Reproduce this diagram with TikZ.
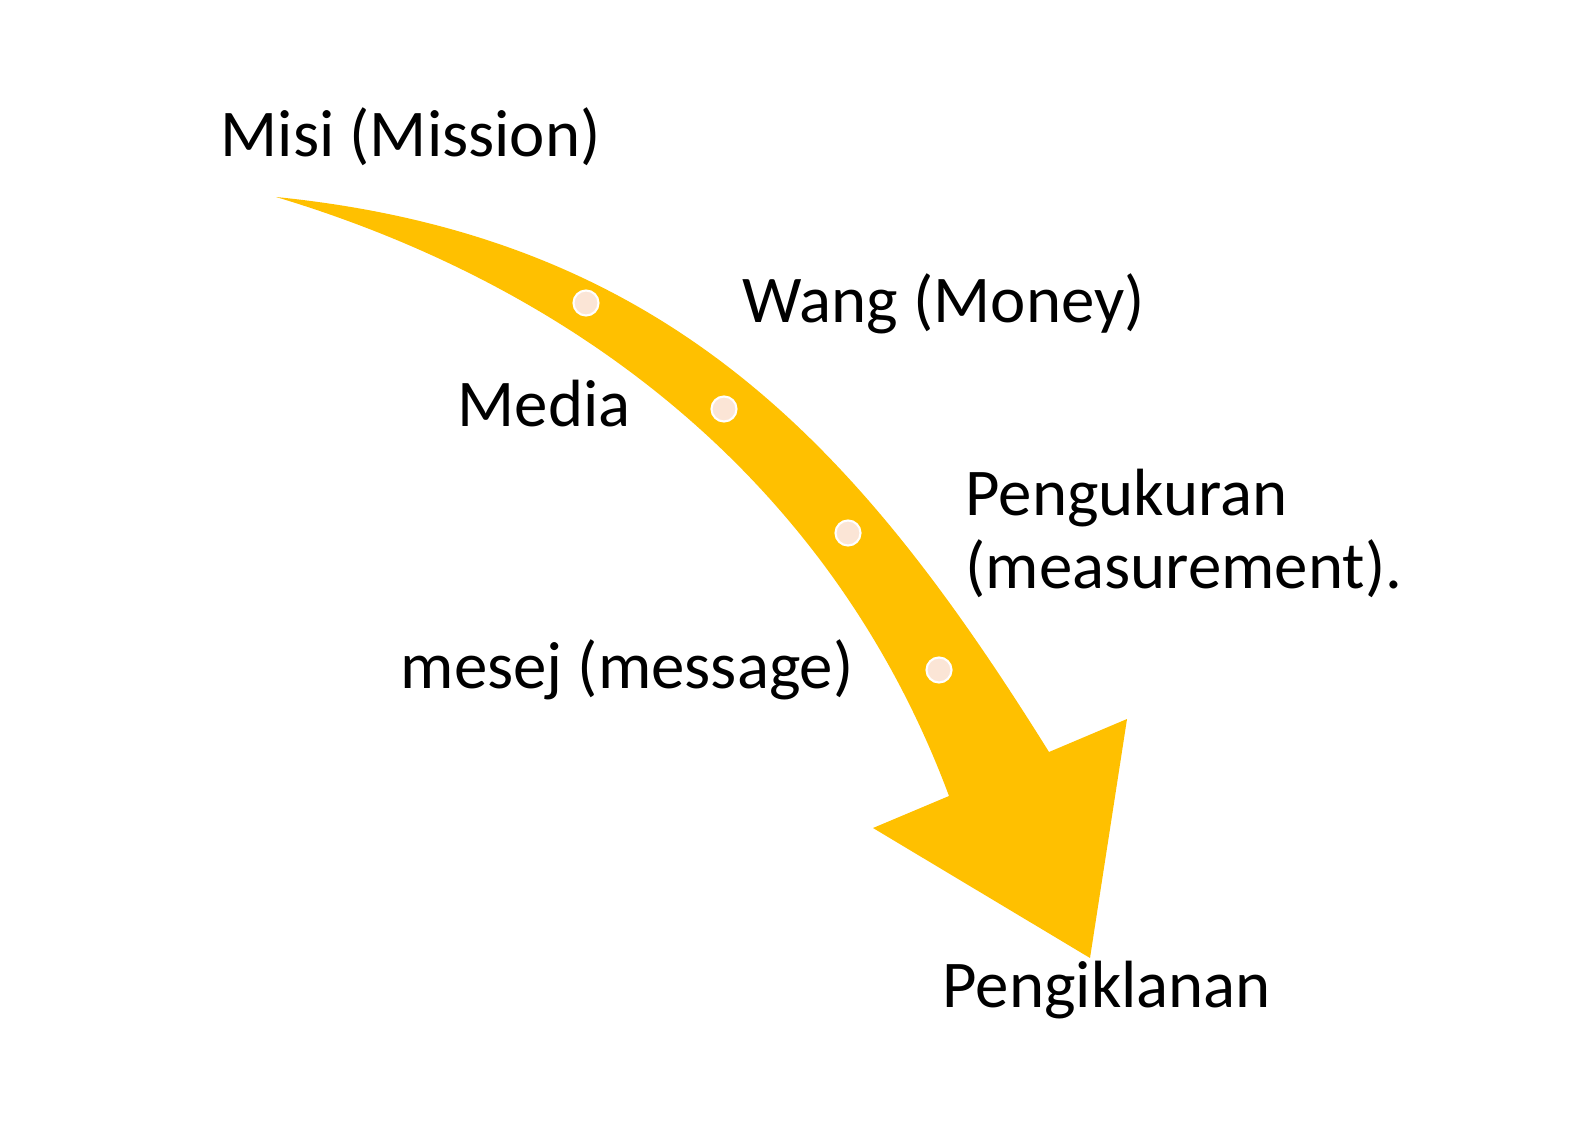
\documentclass[tikz,border=0pt]{standalone}
\usepackage{fontspec}
\setmainfont{Carlito}
\definecolor{arrowgold}{HTML}{FFC000}
\definecolor{beadfill}{HTML}{FBE5D6}
\tikzset{
    item/.style={anchor=base west, inner sep=0pt, align=left, font=\fontsize{19}{20.7}\selectfont, text=black},
    bead/.style={circle, fill=beadfill, draw=white, line width=0.6pt, minimum size=0.25cm, inner sep=0pt}
}

\begin{document}
\begin{tikzpicture}[x=0.01cm, y=-0.01cm]
        \useasboundingbox (0,0) rectangle (1592,1125);

        % Curved arrow
        \fill[arrowgold] (276,197) .. controls (674,237) and (863,454) .. (1049,752)
            -- (1127,719) -- (1090,958) -- (873,828) -- (949,796)
            .. controls (837,495) and (592,292) .. (276,197) -- cycle;

        % Beads on the arrow
        \node (bead1) [bead] at (586,303) {};
        \node (bead2) [bead] at (724,409) {};
        \node (bead3) [bead] at (848,533) {};
        \node (bead4) [bead] at (939,670) {};

        % Labels
        \node (misi) [item] at (220,157) {Misi (Mission)};
        \node (wang) [item] at (742,323) {Wang (Money)};
        \node (media) [item] at (457,427) {Media};
        \node (pengukuran) [item] at (965,588) {Pengukuran\\(measurement).};
        \node (mesej) [item] at (400,688) {mesej (message)};
        \node (pengiklanan) [item] at (942,1007) {Pengiklanan};

\end{tikzpicture}
\end{document}
